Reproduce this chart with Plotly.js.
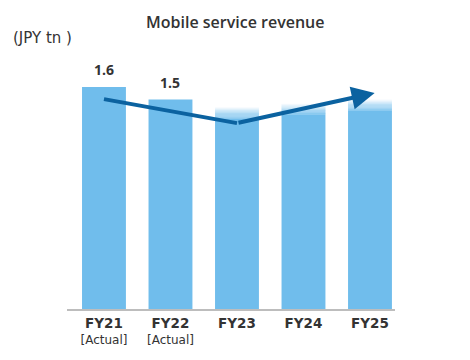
<!DOCTYPE html>
<html><head><meta charset="utf-8">
<script src="https://cdn.plot.ly/plotly-3.0.1.min.js"></script>
<style>html,body{margin:0;padding:0;background:#fff}#chart{width:470px;height:360px}</style>
</head><body><div id="chart"></div>
<script>
const categories = ['FY21', 'FY22', 'FY23', 'FY24', 'FY25'];
const subLabels = ['[Actual]', '[Actual]', '', '', ''];
const revenue = [1.6, 1.51, 1.455, 1.48, 1.51];
const valueLabels = ['1.6', '1.5', '', '', ''];
const isForecast = [false, false, true, true, true];
const trendX = [0, 2, 4.07];
const trendY = [1.513, 1.34, 1.557];

const BLUE = '#70bdec';
const FONT = 'DejaVu Sans';
const fade = 0.08, steps = 16;
const xs = categories.map((c, i) => i);
const traces = [];
traces.push({type: 'bar', x: xs, y: revenue.map((v, i) => isForecast[i] ? v - fade : v),
  width: 0.66, marker: {color: BLUE, line: {width: 0}}, hoverinfo: 'skip'});
function mix(t) {
  const b = [0x70, 0xbd, 0xec];
  return 'rgb(' + b.map(c => Math.round(c + (255 - c) * t)).join(',') + ')';
}
for (let s = 0; s < steps; s++) {
  const fx = [], fy = [], fb = [];
  revenue.forEach((v, i) => {
    if (!isForecast[i]) return;
    fx.push(i); fy.push(fade / steps * 1.05); fb.push(v - fade + s * fade / steps);
  });
  traces.push({type: 'bar', x: fx, y: fy, base: fb, width: 0.66,
    marker: {color: mix(Math.pow((s + 0.5) / steps, 1.3) * 0.97), line: {width: 0}}, hoverinfo: 'skip'});
}
traces.push({type: 'scatter', mode: 'lines', x: trendX.slice(0, 2), y: trendY.slice(0, 2),
  line: {color: '#0b62a0', width: 4}, hoverinfo: 'skip'});

const annotations = [];
revenue.forEach((v, i) => {
  if (valueLabels[i]) annotations.push({x: i, y: v, text: '<b>' + valueLabels[i] + '</b>',
    showarrow: false, yanchor: 'bottom', yshift: 6,
    font: {family: 'Open Sans', size: 14, color: '#333'}});
});
annotations.push({x: trendX[2], y: trendY[2], ax: trendX[1], ay: trendY[1], axref: 'x', ayref: 'y',
  xref: 'x', yref: 'y', showarrow: true, arrowhead: 2, arrowsize: 1.15, arrowwidth: 4,
  arrowcolor: '#0b62a0', text: ''});
annotations.push({xref: 'paper', yref: 'paper', x: (235 - 67) / 328, y: 1 + 38 / 249,
  text: 'Mobile service revenue', showarrow: false, xanchor: 'center', yanchor: 'middle',
  font: {family: 'Open Sans', size: 16, weight: 600, color: '#333'}});
annotations.push({xref: 'paper', yref: 'paper', x: -56 / 328, y: 1 + 22 / 249,
  text: '(JPY tn )', showarrow: false, xanchor: 'left', yanchor: 'middle',
  font: {family: FONT, size: 15, color: '#333'}});

const tickText = categories.map((c, i) => '<span style="font-size:13.5px;font-weight:bold">' + c + '</span>' +
  (subLabels[i] ? '<br>' + subLabels[i] : ''));

const layout = {
  width: 470, height: 360,
  margin: {l: 67, r: 75, t: 60, b: 51},
  paper_bgcolor: '#fff', plot_bgcolor: '#fff',
  showlegend: false, barmode: 'overlay',
  font: {family: FONT, color: '#333'},
  xaxis: {range: [-0.556, 4.376], tickvals: xs, ticktext: tickText, showgrid: false,
    zeroline: false, showline: true, linecolor: '#bdbdbd', linewidth: 2, ticks: '',
    ticklabelstandoff: 3,
    tickfont: {family: FONT, size: 12, color: '#333'}, fixedrange: true},
  yaxis: {range: [0, 1.795], visible: false, fixedrange: true},
  annotations: annotations
};

Plotly.newPlot('chart', traces, layout, {displayModeBar: false, staticPlot: true});
</script></body></html>
